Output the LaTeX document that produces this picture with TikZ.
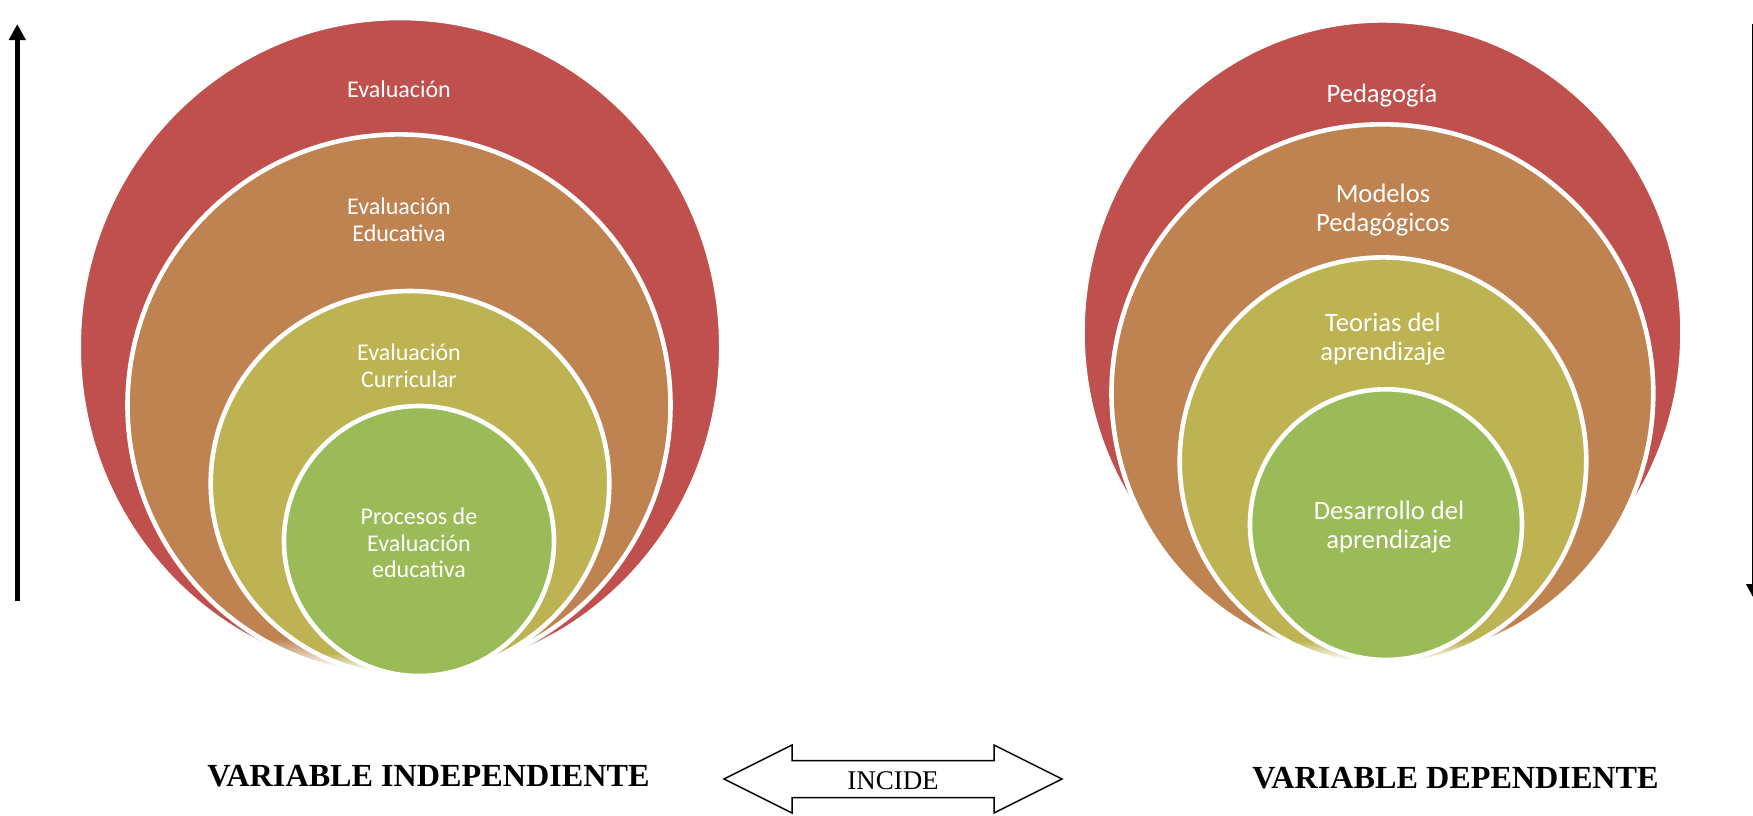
\documentclass[tikz,border=0pt]{standalone}
\usepackage{fontspec}
\newfontfamily\calfont{Carlito}
\newfontfamily\tnrfont{Liberation Serif}
\usetikzlibrary{arrows.meta,shapes.geometric}
\definecolor{cRed}{HTML}{C0504D}
\definecolor{cOrange}{HTML}{BF8251}
\definecolor{cYellow}{HTML}{BDB353}
\definecolor{cGreen}{HTML}{9BBB59}
\pgfdeclareverticalshading{fadeRed}{100bp}{color(0bp)=(white); color(25.75bp)=(white); color(28.5bp)=(cRed); color(100bp)=(cRed)}
\pgfdeclareverticalshading{fadeOrange}{100bp}{color(0bp)=(white); color(25.75bp)=(white); color(28.5bp)=(cOrange); color(100bp)=(cOrange)}
\pgfdeclareverticalshading{fadeYellow}{100bp}{color(0bp)=(white); color(25.6bp)=(white); color(28bp)=(cYellow); color(100bp)=(cYellow)}
\tikzset{
  ring/.style={ellipse, draw=white, line width=2.3pt, inner sep=0pt, outer sep=0pt},
  lbl/.style={text=white, align=center, inner sep=0pt, font=\calfont\fontsize{12}{13.3}\selectfont},
  rlbl/.style={text=white, align=center, inner sep=0pt, font=\calfont\fontsize{13.3}{14.6}\selectfont},
  vartitle/.style={inner sep=0pt, font=\tnrfont\bfseries\fontsize{16.1}{18}\selectfont},
  vararrow/.style={line width=2.6pt, -{Triangle[length=8pt,width=8pt]}},
}
\begin{document}
\begin{tikzpicture}[x=0.5pt,y=-0.5pt]
\useasboundingbox (0,0) rectangle (1753,815);
% left set
\node[ring, shading=fadeRed, minimum width=321.3pt, minimum height=329pt] (redL) at (400,347) {};
\node[ring, shading=fadeOrange, minimum width=271.5pt, minimum height=270.8pt] (orangeL) at (399,405.2) {};
\node[ring, shading=fadeYellow, minimum width=199.3pt, minimum height=192.5pt] (yellowL) at (410,483.5) {};
\node[ring, fill=cGreen, minimum width=135pt, minimum height=135pt] (greenL) at (419,541) {};
\node[lbl] (tL1) at (399,89) {Evaluación};
\node[lbl] (tL2) at (399,220) {Evaluación\\Educativa};
\node[lbl] (tL3) at (409,366) {Evaluación\\Curricular};
\node[lbl] (tL4) at (419,543) {Procesos de\\Evaluación\\educativa};
% right set
\node[ring, shading=fadeRed, minimum width=300pt, minimum height=312pt] (redR) at (1382.5,332.4) {};
\node[ring, shading=fadeOrange, minimum width=270.9pt, minimum height=268.9pt] (orangeR) at (1382.4,393.2) {};
\node[ring, shading=fadeYellow, minimum width=203.3pt, minimum height=203.8pt] (yellowR) at (1383,461.2) {};
\node[ring, fill=cGreen, minimum width=136pt, minimum height=135.3pt] (greenR) at (1386,524.6) {};
\node[rlbl] (tR1) at (1382,96) {Pedagogía};
\node[rlbl] (tR2) at (1383,210) {Modelos\\Pedagógicos};
\node[rlbl] (tR3) at (1383,339) {Teorias del\\aprendizaje};
\node[rlbl] (tR4) at (1389,527) {Desarrollo del\\aprendizaje};
% side arrows
\coordinate (la0) at (17.3,601);
\coordinate (la1) at (17.3,24);
\draw[vararrow] (la0) -- (la1);
\coordinate (ra0) at (1754.5,24);
\coordinate (ra1) at (1754.5,600);
\draw[vararrow] (ra0) -- (ra1);
% titles
\node[vartitle] (vi) at (428.5,776) {VARIABLE INDEPENDIENTE};
\node[vartitle] (vd) at (1455.5,778) {VARIABLE DEPENDIENTE};
% double arrow
\draw[line width=0.75pt, line join=miter] (724,779) -- (792,745) -- (792,760.5) -- (994,760.5) -- (994,745) -- (1062,779) -- (994,813) -- (994,797.5) -- (792,797.5) -- (792,813) -- cycle;
\node[inner sep=0pt, font=\tnrfont\fontsize{13.5}{16}\selectfont] (incide) at (893,781) {INCIDE};
\end{tikzpicture}
\end{document}
